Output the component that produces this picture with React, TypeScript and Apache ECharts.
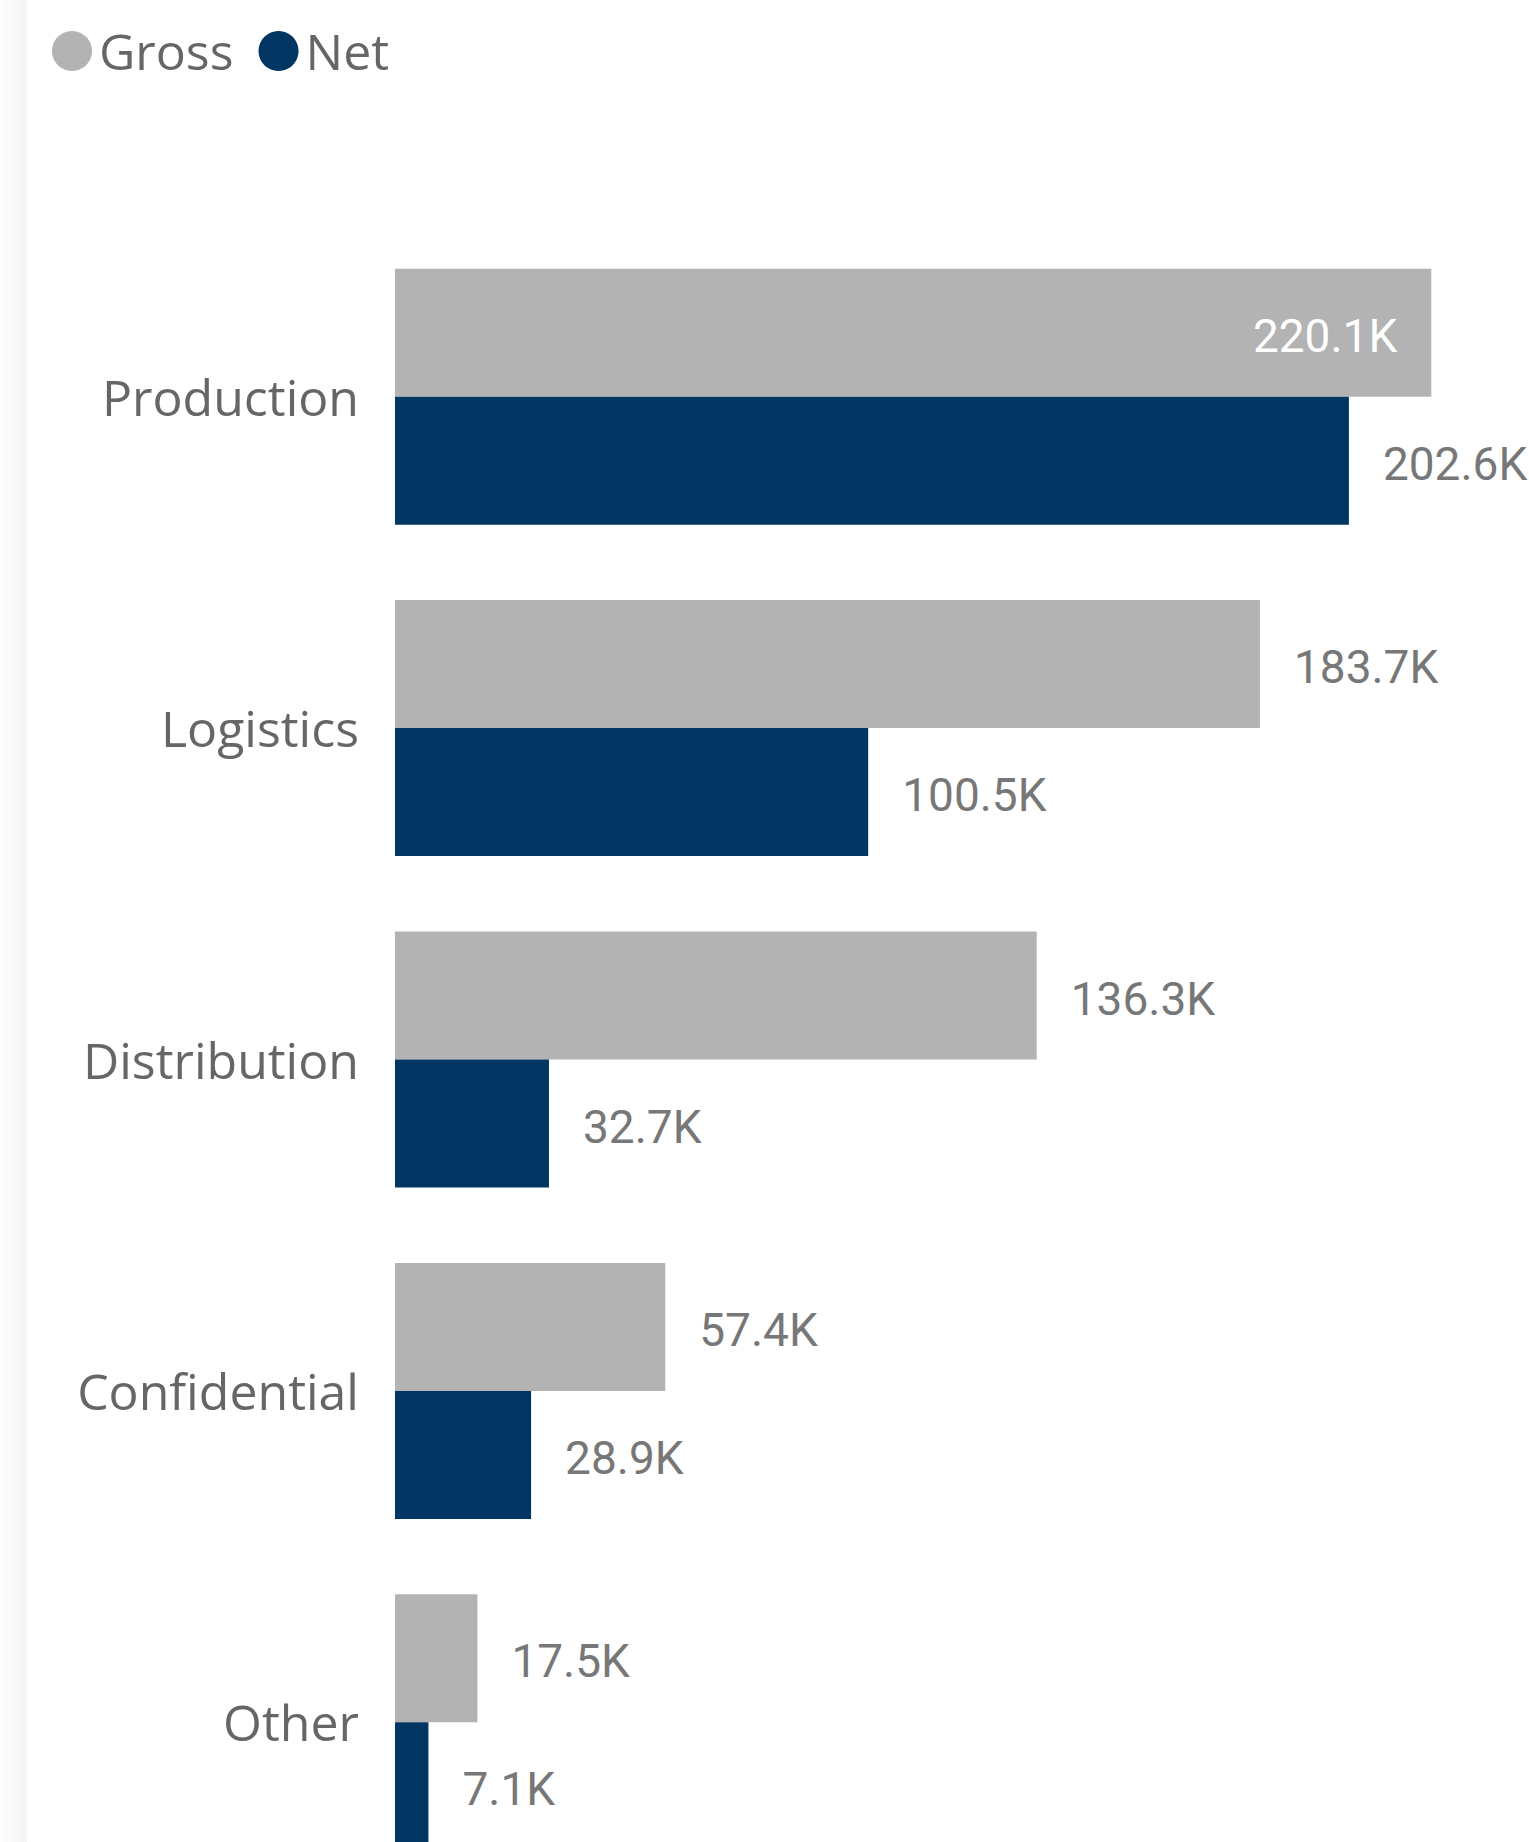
import React, { useEffect, useRef } from "react";
import * as echarts from "echarts";

const categories = ["Production", "Logistics", "Distribution", "Confidential", "Other"];
const grossValues = [220100, 183700, 136300, 57400, 17500];
const netValues = [202600, 100500, 32700, 28900, 7100];
const seriesNames = ["Gross", "Net"];

const GRAY = "#B3B3B3";
const NAVY = "#023662";

const fmt = (v: number) => (v / 1000).toFixed(1) + "K";

export default function App() {
  const ref = useRef<HTMLDivElement>(null);
  useEffect(() => {
    if (!ref.current) return;
    const chart = echarts.init(ref.current, undefined, { renderer: "svg" });
    const valueLabel = {
      show: true,
      position: "right",
      distance: 34,
      offset: [0, 3],
      fontFamily: "Roboto",
      fontSize: 46,
      color: "#777777",
      formatter: (p: any) => fmt(p.value),
    };
    const grossData = grossValues.map((v, i) =>
      i === 0
        ? { value: v, label: { position: "insideRight", distance: 34, color: "#FFFFFF" } }
        : { value: v }
    );
    chart.setOption({
      animation: false,
      backgroundColor: "#FFFFFF",
      graphic: [
        {
          type: "rect",
          left: 0,
          top: 0,
          shape: { x: 0, y: 0, width: 27, height: 1900 },
          style: {
            fill: new echarts.graphic.LinearGradient(0, 0, 1, 0, [
              { offset: 0, color: "#FDFDFD" },
              { offset: 1, color: "#F4F4F4" },
            ]),
          },
          silent: true,
        },
      ],
      legend: {
        left: 47,
        top: 21,
        icon: "circle",
        itemWidth: 40,
        itemHeight: 40,
        itemGap: 25,
        data: seriesNames,
        textStyle: {
          fontFamily: "Open Sans",
          fontSize: 50,
          color: "#666666",
          padding: [0, 0, 0, 2],
        },
      },
      grid: { left: 395, top: 231, width: 1130, height: 1657, containLabel: false },
      xAxis: {
        type: "value",
        min: 0,
        max: 240000,
        show: false,
      },
      yAxis: {
        type: "category",
        data: categories,
        inverse: true,
        axisLine: { show: false },
        axisTick: { show: false },
        splitLine: { show: false },
        axisLabel: {
          margin: 36,
          fontFamily: "Open Sans",
          fontSize: 50,
          color: "#666666",
        },
      },
      series: [
        {
          name: seriesNames[0],
          type: "bar",
          data: grossData,
          itemStyle: { color: GRAY },
          barWidth: 128,
          barGap: "0%",
          label: valueLabel,
        },
        {
          name: seriesNames[1],
          type: "bar",
          data: netValues,
          itemStyle: { color: NAVY },
          barWidth: 128,
          barGap: "0%",
          label: valueLabel,
        },
      ],
    });
    return () => chart.dispose();
  }, []);
  return (
    <div
      style={{
        position: "absolute",
        left: 0,
        top: 0,
        width: 1529,
        height: 1842,
        overflow: "hidden",
        background: "#FFFFFF",
      }}
    >
      <div ref={ref} style={{ width: 1529, height: 1900 }} />
    </div>
  );
}
